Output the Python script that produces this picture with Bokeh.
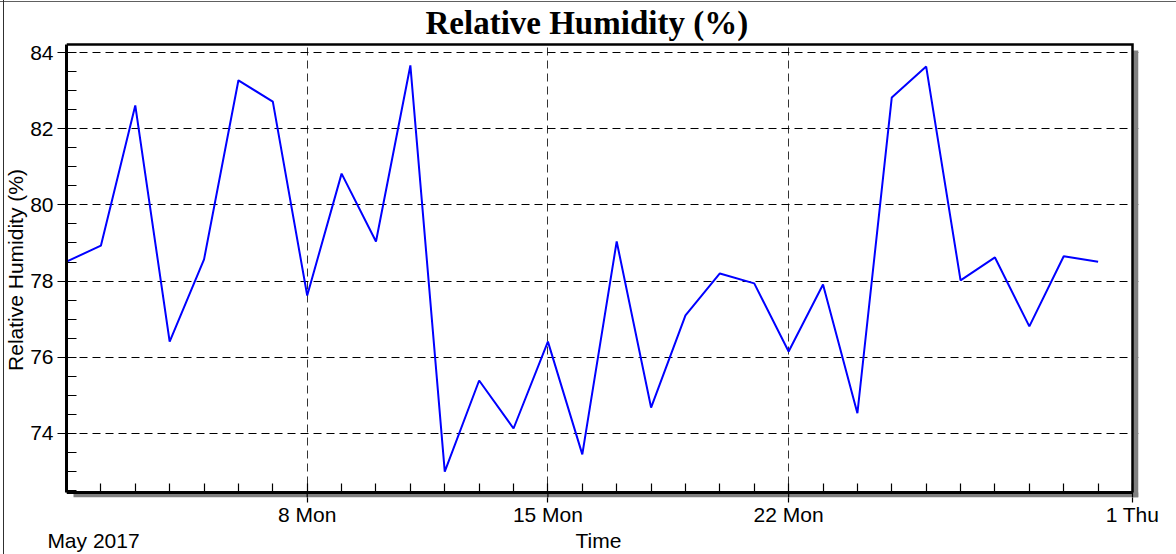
import pandas as pd
from bokeh.plotting import figure
from bokeh.models import (FixedTicker, SingleIntervalTicker, Range1d, LinearAxis)
from bokeh.embed import file_html
from bokeh.resources import INLINE

# ---- data ----
dates = pd.date_range("2017-05-01", periods=31, freq="D")
humidity = [78.51, 78.93, 82.61, 76.41, 78.57, 83.27, 82.71, 77.62, 80.82, 79.04,
            83.66, 73.00, 75.39, 74.13, 76.41, 73.45, 79.04, 74.68, 77.10, 78.20,
            77.94, 76.15, 77.91, 74.53, 82.82, 83.63, 78.02, 78.62, 76.81, 78.65,
            78.51]
major_tick_dates = ["2017-05-08", "2017-05-15", "2017-05-22", "2017-06-01"]
major_tick_labels = ["8 Mon", "15 Mon", "22 Mon", "1 Thu"]
month_label = "May 2017"
title_text = "Relative Humidity (%)"
y_label = "Relative Humidity (%)"
x_label = "Time"
y_major_interval = 2


def ms(d):
    return pd.Timestamp(d).value / 1e6


x_start = ms("2017-05-01")
x_end = ms("2017-06-01")
y_start, y_end = 72.45, 84.21

# pixel geometry of the plot box
BOX_W, BOX_H = 1066, 448
SH_R, SH_B, EXT_T = 6, 5, 2
px_x = (x_end - x_start) / BOX_W
px_y = (y_end - y_start) / BOX_H
day_ms = 86400000.0

xr = Range1d(x_start, x_end + SH_R * px_x)
yr = Range1d(y_start - SH_B * px_y, y_end + EXT_T * px_y)

W, H = 1176, 554
p = figure(x_axis_type="datetime", output_backend="svg", toolbar_location=None,
           frame_width=BOX_W + SH_R, frame_height=BOX_H + SH_B + EXT_T,
           min_border_left=66, min_border_right=W - 66 - BOX_W - SH_R,
           min_border_top=42, min_border_bottom=H - 42 - BOX_H - SH_B - EXT_T,
           x_range=xr, y_range=yr,
           background_fill_color="white", border_fill_color=None)
p.outline_line_color = None
# thin outer frame lines (left and top) of the chart image
p.styles = {
    "background": "linear-gradient(#303030, #303030) 3px 0 / 1px 100% no-repeat, "
                  "linear-gradient(#606060, #606060) 0 1px / 100% 1px no-repeat, white",
}

# title
p.title.text = title_text
p.title.align = "left"
p.title.offset = 359
p.title.text_font = "Liberation Serif"
p.title.text_font_style = "bold"
p.title.text_font_size = "33px"
p.title.text_color = "black"
p.title.standoff = 4

# shadows (right and bottom of plot box)
p.quad(left=[x_end], right=[xr.end], top=[y_end - 6 * px_y], bottom=[yr.start],
       fill_color="#808080", line_color=None)
p.quad(left=[x_start + 7 * px_x], right=[xr.end], top=[y_start], bottom=[yr.start],
       fill_color="#808080", line_color=None)

xt = [ms(d) for d in major_tick_dates]
minor = [ms(d) for d in pd.date_range("2017-05-01", "2017-06-01", freq="D")]

# major tick marks crossing the bottom shadow
p.segment(x0=xt, x1=xt, y0=[y_start] * len(xt), y1=[yr.start] * len(xt),
          line_color="black", line_width=1.2)

# plot box top and right edges
p.line([x_start, x_end, x_end], [y_end, y_end, y_start], line_color="black",
       line_width=2.5, line_join="miter")

# x axis line with day ticks (at the plot box bottom)
xax = p.xaxis[0]
xax.ticker = FixedTicker(ticks=xt, minor_ticks=minor)
xax.fixed_location = y_start
xax.bounds = (x_start, x_end)
xax.major_label_text_font_size = "0px"
xax.major_label_text_alpha = 0
xax.major_tick_in = 0
xax.major_tick_out = 0
xax.minor_tick_in = 9
xax.minor_tick_out = 0
xax.axis_line_width = 3
xax.axis_line_color = "black"
xax.minor_tick_line_width = 1.2
xax.minor_tick_line_color = "black"

# tick labels row
xax_lab = LinearAxis(ticker=FixedTicker(ticks=xt, minor_ticks=[]),
                     major_label_overrides={t: l for t, l in zip(xt, major_tick_labels)},
                     axis_line_color=None, major_tick_line_color="black", major_tick_line_width=1.2,
                     minor_tick_line_color=None,
                     major_tick_out=5, major_tick_in=0, major_label_standoff=0,
                     major_label_text_font="Liberation Sans", major_label_text_font_size="21px",
                     major_label_text_color="black")
p.add_layout(xax_lab, "below")

# second row below: month context + axis title
row_ticks = [x_start + 0.785 * day_ms, x_start + 15.47 * day_ms]
row_labels = [month_label, x_label]
xax2 = LinearAxis(ticker=FixedTicker(ticks=row_ticks, minor_ticks=[]),
                  major_label_overrides={t: l for t, l in zip(row_ticks, row_labels)},
                  axis_line_color=None, major_tick_line_color=None, minor_tick_line_color=None,
                  major_tick_out=0, major_tick_in=0, major_label_standoff=0,
                  major_label_text_font="Liberation Sans", major_label_text_font_size="21px",
                  major_label_text_color="black")
p.add_layout(xax2, "below")

# y axis
yax = p.yaxis[0]
yax.ticker = SingleIntervalTicker(interval=y_major_interval, num_minor_ticks=4)
yax.bounds = (y_start, y_end)
yax.axis_label = y_label
yax.axis_label_text_font = "Liberation Sans"
yax.axis_label_text_font_style = "normal"
yax.axis_label_text_font_size = "21px"
yax.axis_label_text_color = "black"
yax.axis_label_standoff = 0
yax.major_label_text_font = "Liberation Sans"
yax.major_label_text_font_size = "21px"
yax.major_label_text_color = "black"
yax.major_label_standoff = 4
yax.major_tick_in = 0
yax.major_tick_out = 9
yax.minor_tick_in = 10
yax.minor_tick_out = 0
yax.axis_line_width = 3
yax.axis_line_color = "black"
yax.major_tick_line_width = 1.2
yax.minor_tick_line_width = 1.2
yax.major_tick_line_color = "black"
yax.minor_tick_line_color = "black"

# grids
p.ygrid.grid_line_color = "black"
p.ygrid.grid_line_dash = "8 5"
p.ygrid.grid_line_width = 1
p.xgrid.grid_line_color = "#333333"
p.xgrid.grid_line_dash = "8 5"
p.xgrid.grid_line_width = 1

p.line(dates, humidity, line_color="#0000FF", line_width=2)

open("out.html", "w").write(file_html(p, INLINE))
